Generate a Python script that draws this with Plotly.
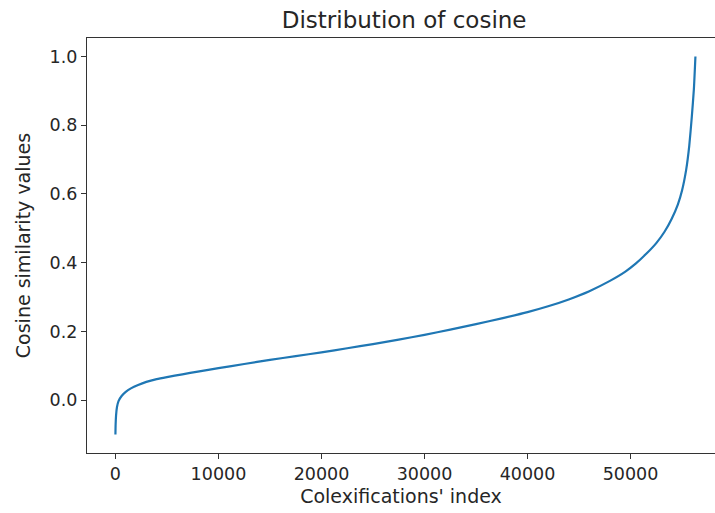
import plotly.graph_objects as go

# Sorted cosine similarity values
idx = [0, 20, 60, 150, 300, 600, 1000, 1500, 2200, 3000, 4000, 5000, 6500,
       8000, 10000, 12500, 15000, 17500, 20000, 22500, 25000, 27500, 30000,
       32500, 35000, 37500, 40000, 42000, 44000, 46000, 48000, 49500, 50500,
       51500, 52500, 53300, 54000, 54600, 55000, 55400, 55700, 55950, 56150,
       56300]
cosine = [-0.100, -0.070, -0.045, -0.020, -0.003, 0.012, 0.024, 0.034, 0.044,
          0.053, 0.061, 0.067, 0.075, 0.083, 0.093, 0.105, 0.117, 0.128,
          0.139, 0.151, 0.163, 0.176, 0.190, 0.205, 0.221, 0.238, 0.256,
          0.273, 0.293, 0.317, 0.347, 0.374, 0.397, 0.425, 0.457, 0.490,
          0.528, 0.570, 0.610, 0.670, 0.740, 0.825, 0.905, 1.000]

x_ticks = [0, 10000, 20000, 30000, 40000, 50000]
y_ticks = [0.0, 0.2, 0.4, 0.6, 0.8, 1.0]

FONT = "DejaVu Sans"
TXT = "#262626"

fig = go.Figure()
fig.add_trace(go.Scatter(x=idx, y=cosine, mode="lines",
                         line=dict(color="#1f77b4", width=2.2, shape="spline", smoothing=0.5),
                         showlegend=False, hoverinfo="skip"))

fig.update_layout(
    width=715, height=513,
    margin=dict(l=87, r=0, t=38, b=60),
    paper_bgcolor="white", plot_bgcolor="white",
    font=dict(family=FONT, size=17.5, color=TXT),
    title=dict(text="Distribution of cosine", x=0.505, xref="paper", xanchor="center",
               y=0.961, yref="container", yanchor="middle",
               font=dict(family=FONT, size=23, color=TXT)),
    xaxis=dict(range=[-2760, 58200], tickvals=x_ticks, ticktext=[str(v) for v in x_ticks],
               showgrid=False, zeroline=False, showline=True, linecolor="#333333",
               linewidth=1.2, mirror=True, ticks="outside", ticklen=5, tickwidth=1,
               tickcolor="#333333", tickfont=dict(size=17.5, color=TXT),
               automargin=False,
               title=dict(text="Colexifications' index", standoff=6,
                          font=dict(size=19, color=TXT))),
    yaxis=dict(range=[-0.154, 1.054], tickvals=y_ticks, ticktext=[f"{v:.1f}" for v in y_ticks],
               showgrid=False, zeroline=False, showline=True, linecolor="#333333",
               linewidth=1.2, mirror=False, ticks="outside", ticklen=5, tickwidth=1,
               tickcolor="#333333", tickfont=dict(size=17.5, color=TXT),
               automargin=False,
               title=dict(text="Cosine similarity values", standoff=13,
                          font=dict(size=19, color=TXT))),
)

fig.write_html("out.html")
